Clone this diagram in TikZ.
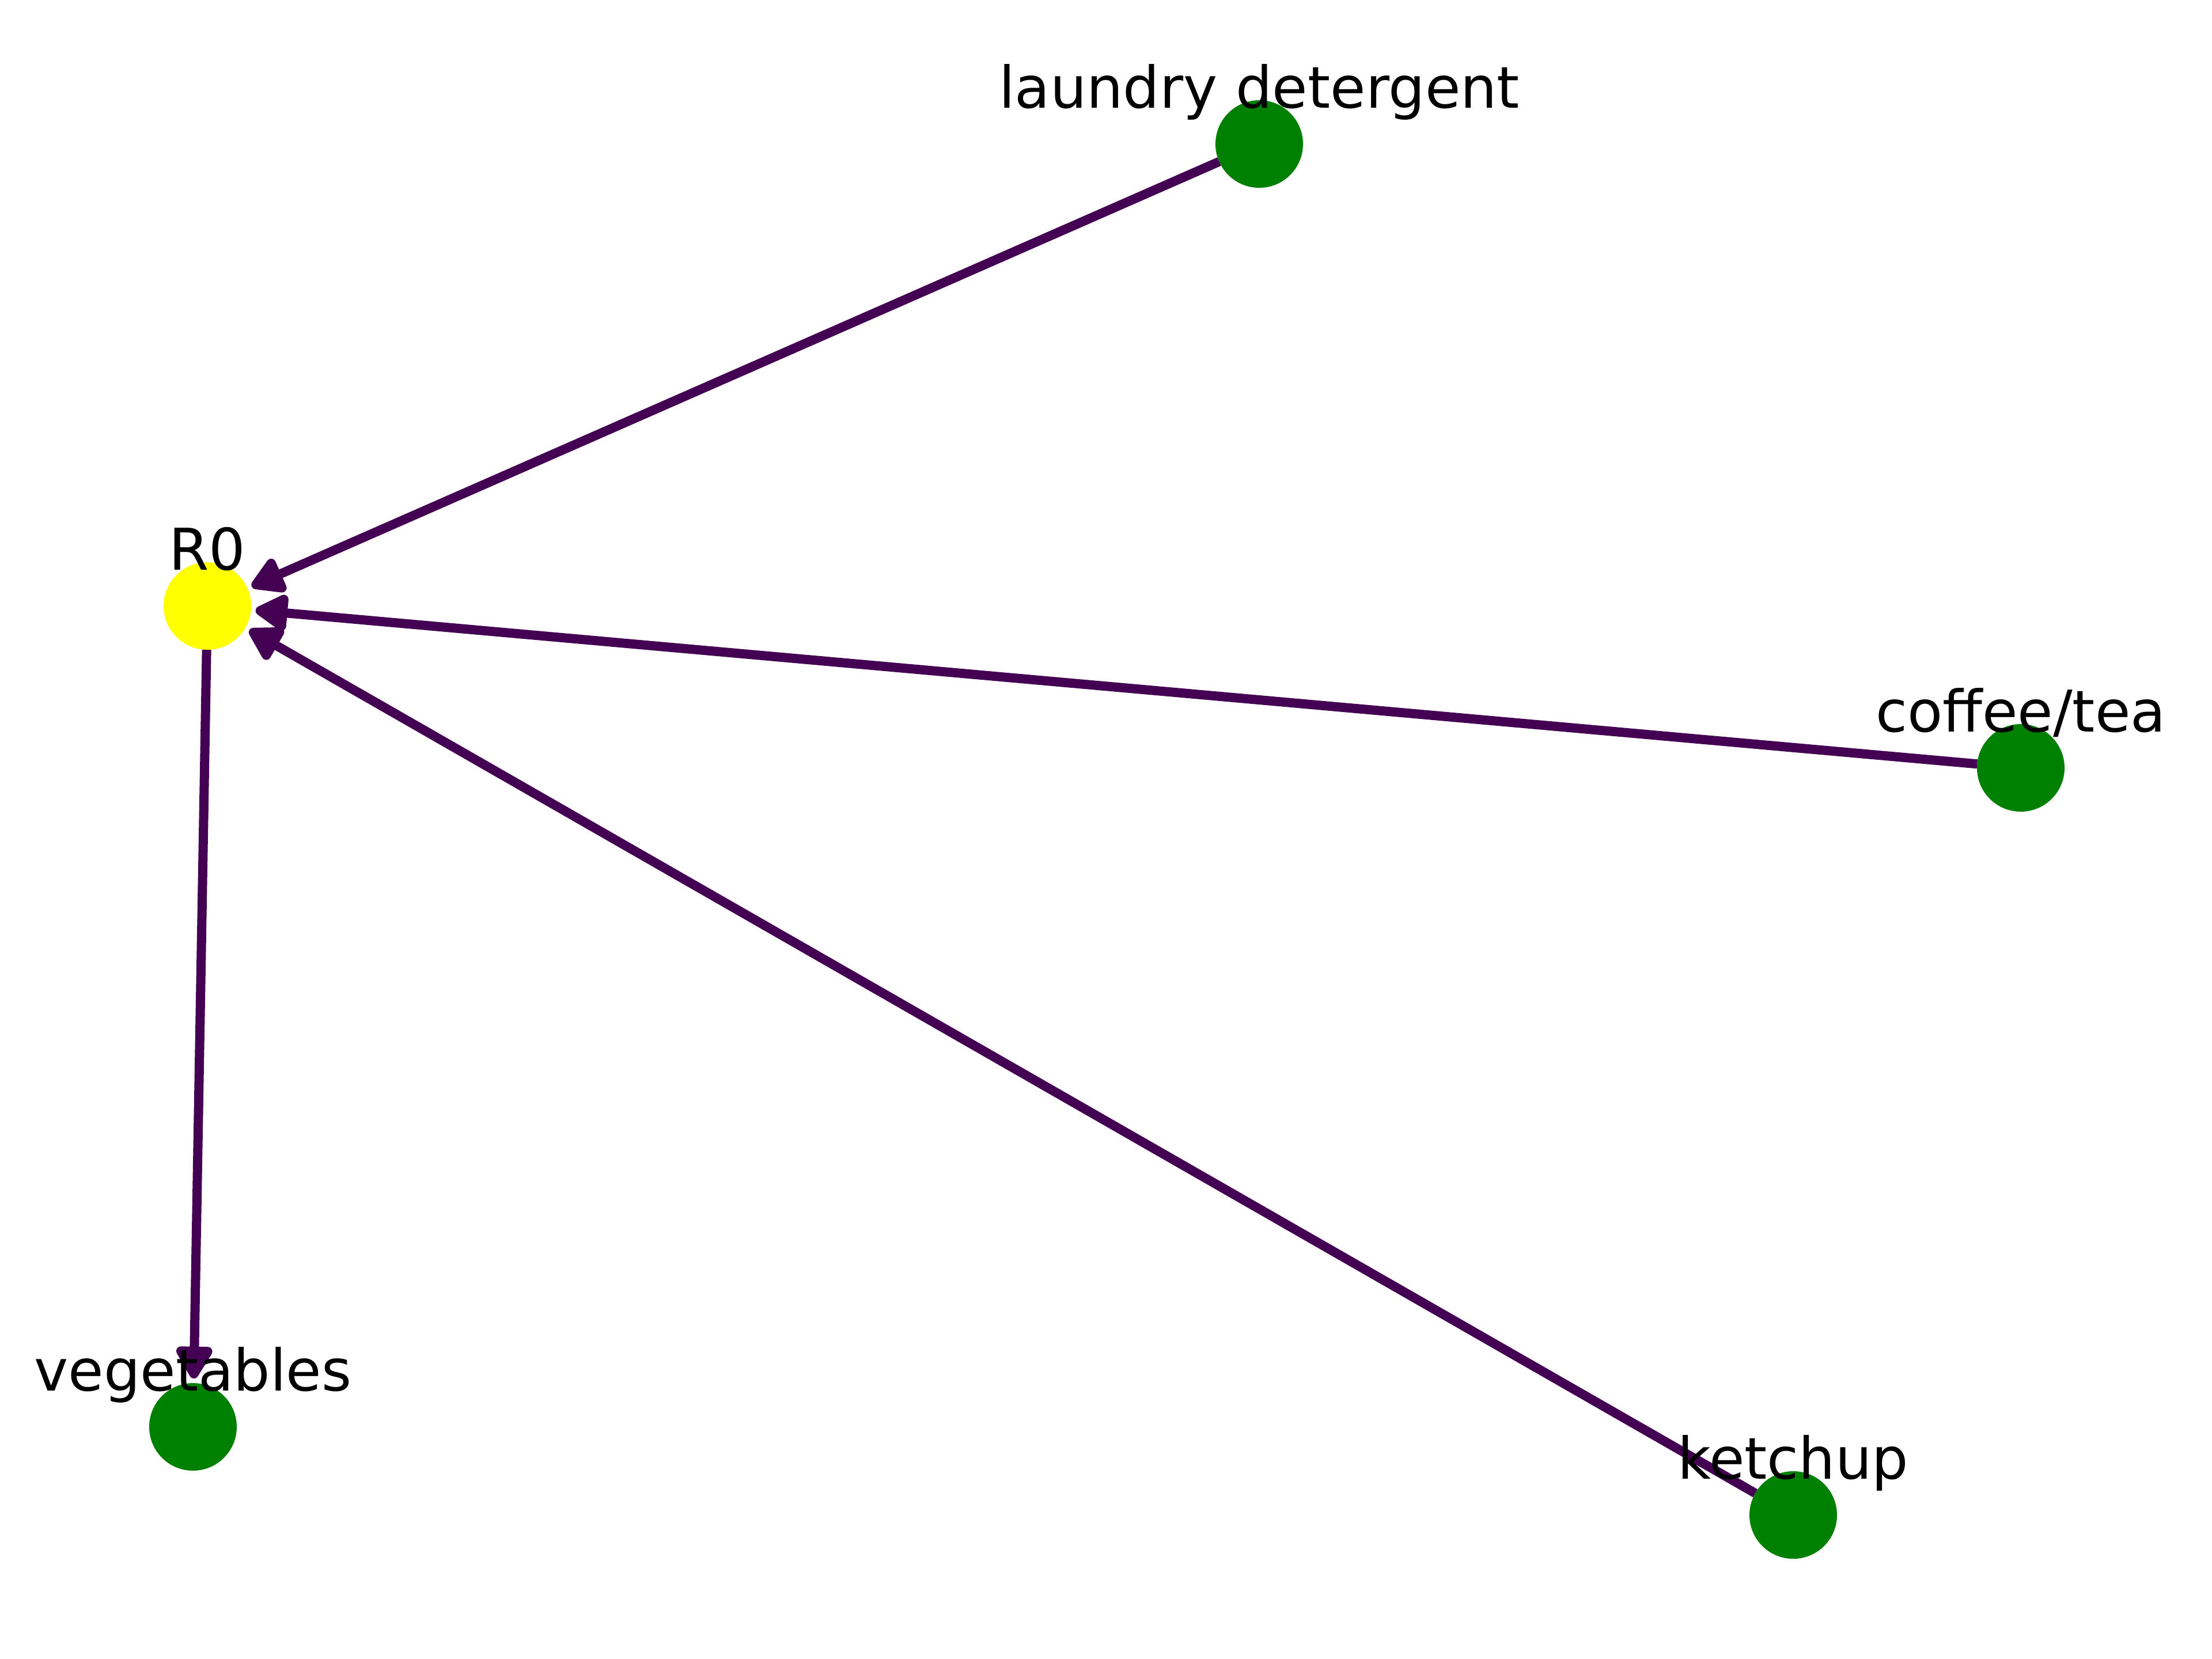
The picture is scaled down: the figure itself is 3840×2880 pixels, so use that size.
\documentclass[tikz,border=0pt]{standalone}
\usepackage{fontspec}
\setmainfont{DejaVu Sans}
\usetikzlibrary{arrows.meta}
\definecolor{edgec}{HTML}{440154}
\definecolor{nodeg}{HTML}{008000}
\definecolor{nodey}{HTML}{FFFF00}
\begin{document}
\begin{tikzpicture}[x=0.1mm,y=-0.1mm,
  vtx/.style={circle, inner sep=0pt, outer sep=0pt, minimum size=15.2mm},
  lbl/.style={anchor=base, inner sep=0pt, font=\fontsize{28.45pt}{34pt}\selectfont},
  edge/.style={draw=edgec, line width=1.6mm, -{Triangle[length=6.4mm,width=7mm,round,line width=0pt 1]}, shorten >=0.8mm}]
\useasboundingbox[fill=white] (0,0) rectangle (3840,2880);
\node[vtx, fill=nodey] (R0) at (360,1052) {};
\node[vtx, fill=nodeg] (laundry) at (2186,250) {};
\node[vtx, fill=nodeg] (coffee) at (3508,1333) {};
\node[vtx, fill=nodeg] (veg) at (335,2477) {};
\node[vtx, fill=nodeg] (ketchup) at (3113,2630) {};
\draw[edge] (laundry) -- (R0);
\draw[edge] (coffee) -- (R0);
\draw[edge] (ketchup) -- (R0);
\draw[edge] (R0) -- (veg);
\node[lbl] (tR0) at ([yshift=6.3mm]R0.center) {R0};
\node[lbl] (tlaundry) at ([yshift=6.3mm]laundry.center) {laundry detergent};
\node[lbl] (tcoffee) at ([yshift=6.3mm]coffee.center) {coffee/tea};
\node[lbl] (tveg) at ([yshift=6.3mm]veg.center) {vegetables};
\node[lbl] (tketchup) at ([yshift=6.3mm]ketchup.center) {ketchup};
\end{tikzpicture}
\end{document}
